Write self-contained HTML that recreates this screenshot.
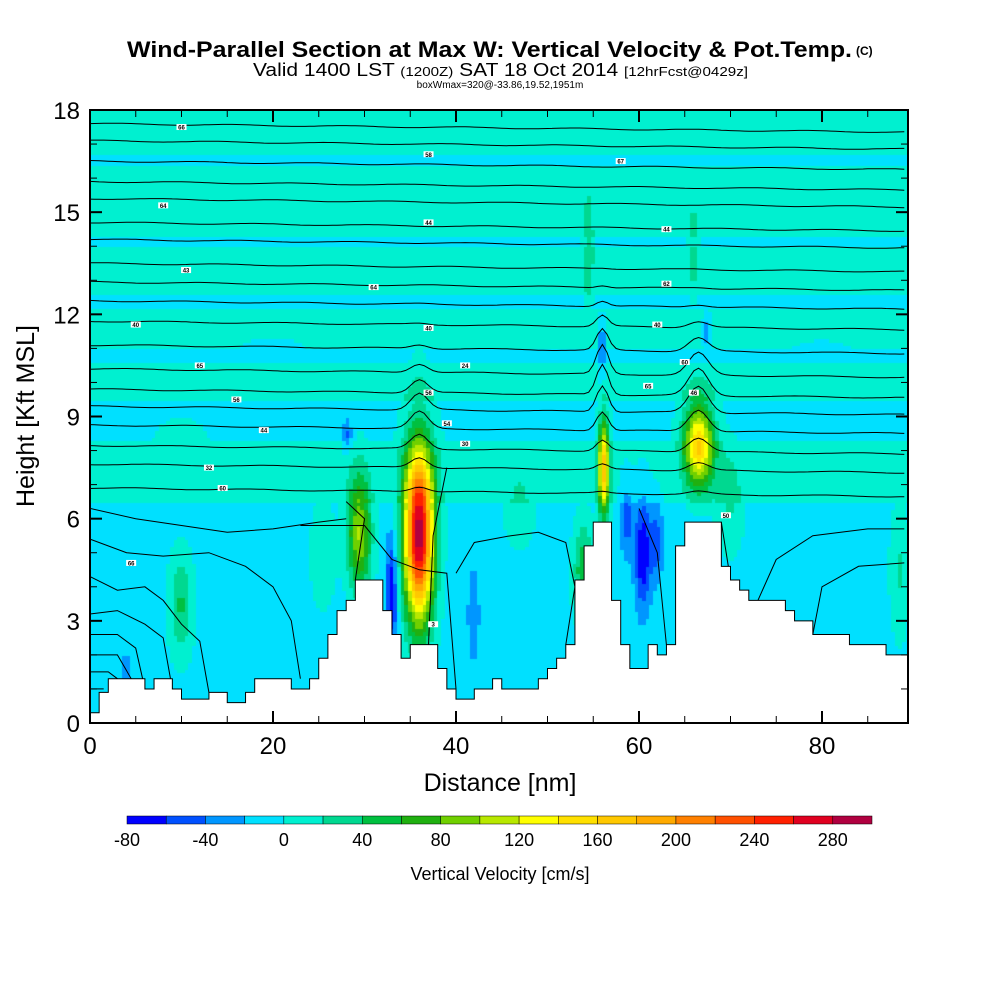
<!DOCTYPE html>
<html><head><meta charset="utf-8"><style>
body{margin:0;background:#fff;width:1000px;height:1000px;overflow:hidden;font-family:"Liberation Sans",sans-serif}
#wrap{position:relative;width:1000px;height:1000px}
canvas{position:absolute;left:90px;top:110px}
svg{position:absolute;left:0;top:0}
</style></head><body><div id="wrap">
<canvas id="field" width="818" height="613"></canvas>
<svg id="s" width="1000" height="1000">
<text x="127" y="57" textLength="725" lengthAdjust="spacingAndGlyphs" font-size="22" font-weight="bold">Wind-Parallel Section at Max W: Vertical Velocity &amp; Pot.Temp.</text>
<text x="856" y="55" font-size="12" font-weight="bold">(C)</text>
<text x="253" y="76" textLength="495" lengthAdjust="spacingAndGlyphs" font-size="18">Valid 1400 LST <tspan font-size="13">(1200Z)</tspan> SAT 18 Oct 2014 <tspan font-size="13">[12hrFcst@0429z]</tspan></text>
<text x="500" y="88" text-anchor="middle" font-size="10">boxWmax=320@-33.86,19.52,1951m</text>
<text x="500" y="791" text-anchor="middle" font-size="25">Distance [nm]</text>
<text transform="translate(34,416) rotate(-90)" text-anchor="middle" font-size="25">Height [Kft MSL]</text>
<text x="500" y="880" text-anchor="middle" font-size="18">Vertical Velocity [cm/s]</text>
</svg></div>
<script>
const xTicks=[0,20,40,60,80];
const yTicks=[0,3,6,9,12,15,18];
const cbLevels=[-80,-60,-40,-20,0,20,40,60,80,100,120,140,160,180,200,220,240,260,280,300];
const cbColors=["#0000ff","#0050ff","#0096ff","#00e0ff","#00f0d0","#00d890","#00c040","#20b010","#70d000","#b8e800","#ffff00","#ffe000","#ffc800","#ffaa00","#ff8000","#ff5000","#ff2000","#e00020","#b00040"];
const cbLabels=[-80,-40,0,40,80,120,160,200,240,280];
// terrain height (kft) per nm, x=0..89
const terrain=[0.3,0.9,1.3,1.3,1.3,1.3,1.0,1.3,1.3,1.0,0.7,0.7,0.7,0.9,0.9,0.6,0.6,0.9,1.3,1.3,1.3,1.3,1.0,1.0,1.3,1.9,2.6,3.3,3.6,4.2,4.2,4.2,3.3,2.6,1.9,2.3,2.3,2.3,1.6,1.0,0.7,0.7,1.0,1.0,1.3,1.0,1.0,1.0,1.0,1.3,1.6,1.9,2.3,4.2,5.2,5.9,5.9,3.6,2.3,1.6,1.6,2.3,2.0,2.3,5.2,5.9,5.9,5.9,5.9,4.6,4.2,3.9,3.6,3.6,3.6,3.6,3.3,3.0,3.0,2.6,2.6,2.6,2.6,2.3,2.3,2.3,2.3,2.0,2.0,2.0];
// w cells: centre x (nm), centre z (kft), width, depth, amplitude (cm/s)
const cellX=[36,29.5,33,56.2,54,66.6,60.5,58.7,62,56,67.5,28.2,10,42,4,25.5,47,70,88.5,54.5,66,20,80,10];
const cellZ=[5.6,5.6,3.8,7.5,4.5,8.2,5.0,6.0,5.3,11.0,11.5,8.5,3.5,3.2,1.5,5.0,6.5,6.5,4.5,14,14,11,11,8];
const cellSX=[1.6,1.3,0.6,0.6,1.1,1.6,0.9,0.7,0.7,0.45,0.5,0.5,1.3,0.6,0.4,1.4,2.0,1.5,1.0,0.5,0.5,6,5,4];
const cellSZ=[2.5,1.7,1.7,1.4,1.4,1.2,1.6,1.1,1.1,1.0,0.6,0.5,1.5,1.3,0.5,1.6,1.5,1.5,2,1.5,1.2,0.5,0.4,1.2];
const cellAmp=[300,110,-75,170,65,165,-70,-40,-40,-45,-40,-40,50,-35,-35,25,20,30,30,30,25,-15,-15,10];
// background band edges (kft) and value inside each interval
const bandZ=[0,6.5,8.3,9.5,10.6,11.0,12.2,12.6,14.0,14.3,16.4,16.7,18.5];
const bandW=[-8,3,-5,10,-3,10,-3,10,-3,10,-3,10];
// potential temperature contour base heights (kft) at left edge
const thetaBase=[17.6,17.1,16.5,15.9,15.4,14.7,14.2,13.5,12.95,12.4,11.8,11.1,10.4,9.8,9.3,8.75,8.15,7.6,6.9];
// low-level theta contours as polylines [x nm, z kft]
const lowLines=[
[[0,6.3],[5,6.0],[10,5.8],[15,5.6],[20,5.7],[25,5.9],[28,6.0]],
[[0,5.4],[4,5.0],[8,4.9],[13,5.0],[17,4.6],[20,4.0],[22,3.0],[23,1.3]],
[[0,4.3],[3,3.9],[6,4.0],[8,3.6],[10,2.9],[12,2.4],[13,0.9]],
[[0,3.2],[3,3.3],[6,2.9],[8,2.5],[9,1.0]],
[[0,2.6],[3,2.6],[5,2.2],[6,1.0]],
[[0,2.0],[3,2.0],[4.5,1.3]],
[[0,1.5],[2,1.5],[3,1.3]],
[[0,1.0],[1.5,1.0]],
[[23,5.8],[30,5.8],[33,4.8],[36,4.5],[39,4.4],[40,1.0]],
[[40,4.4],[42,5.3],[46,5.5],[49,5.6],[52,5.3],[53,4.0],[52,2.3]],
[[28,6.5],[30,6.0],[29,4.2]],
[[37,2.3],[37.5,5.5],[39,7.5]],
[[60,6.3],[62,5.0],[63,2.3]],
[[69,5.9],[70,4.2]],
[[73,3.6],[75,4.8],[79,5.5],[85,5.7],[89,5.7]],
[[79,2.6],[80,4.0],[84,4.6],[89,4.7]]];
const thetaLabels=[[10,17.5,"66"],[37,16.7,"58"],[58,16.5,"67"],[8,15.2,"64"],[37,14.7,"44"],[63,14.5,"44"],[10.5,13.3,"43"],[31,12.8,"64"],[63,12.9,"62"],[5,11.7,"40"],[37,11.6,"40"],[62,11.7,"40"],[12,10.5,"65"],[41,10.5,"24"],[65,10.6,"60"],[16,9.5,"56"],[37,9.7,"56"],[61,9.9,"65"],[19,8.6,"44"],[39,8.8,"54"],[41,8.2,"30"],[66,9.7,"46"],[13,7.5,"32"],[14.5,6.9,"60"],[4.5,4.7,"66"],[37.5,2.9,"3"],[69.5,6.1,"50"]];

const L=90,T=110,R=908,B=723,XMAX=89.4,ZMAX=18;
const sx=x=>L+(R-L)*x/XMAX, sz=z=>B-(B-T)*z/ZMAX;
const NS="http://www.w3.org/2000/svg", svg=document.getElementById('s');
function mk(t,a,p){const e=document.createElementNS(NS,t);for(const k in a)e.setAttribute(k,a[k]);(p||svg).appendChild(e);return e;}
function bg(z){for(let i=0;i<bandW.length;i++){if(z<bandZ[i+1])return bandW[i];}return bandW[bandW.length-1];}
function w(x,z){let v=bg(z);for(let i=0;i<cellX.length;i++){const dx=(x-cellX[i])/cellSX[i],dz=(z-cellZ[i])/cellSZ[i];v+=cellAmp[i]*Math.exp(-(dx*dx+dz*dz));}return v;}
function col(v){for(let i=0;i<cbColors.length;i++){if(v<cbLevels[i+1])return cbColors[i];}return cbColors[cbColors.length-1];}
const ctx=document.getElementById('field').getContext('2d');
const dx=0.4,dz=0.1;
for(let x=0;x<XMAX;x+=dx)for(let z=0;z<ZMAX;z+=dz){
 ctx.fillStyle=col(w(x+dx/2,z+dz/2));
 const px=sx(x)-L,py=sz(z+dz)-T;ctx.fillRect(Math.floor(px),Math.floor(py),Math.ceil(sx(x+dx)-sx(x))+1,Math.ceil(sz(z)-sz(z+dz))+1);
}
function bump(x,z){let d=0;const pk=[[36,0.5,1.3,8.9],[56,0.9,0.9,10],[66.5,0.8,1.5,9.6]];
 for(const p of pk){const g=Math.exp(-Math.pow((x-p[0])/p[2],2));const h=Math.exp(-Math.pow((z-p[3])/1.8,2));d+=p[1]*g*h;}return d;}
thetaBase.forEach((zb,i)=>{let pts=[];for(let x=0;x<=XMAX;x+=0.5){let z=zb-0.25*x/XMAX+bump(x,zb)+0.02*Math.sin(x*0.5+i);pts.push(sx(x).toFixed(1)+","+sz(z).toFixed(1));}
 const p=mk('polyline',{points:pts.join(' '),fill:'none',stroke:'#000','stroke-width':1});
 
 });
lowLines.forEach(l=>{const p=mk('polyline',{points:l.map(q=>sx(q[0]).toFixed(1)+","+sz(q[1]).toFixed(1)).join(' '),fill:'none',stroke:'#000','stroke-width':1});
 
 });
thetaLabels.forEach(t=>{const g=mk('g',{});
 
 
 mk('rect',{x:sx(t[0])-5,y:sz(t[1])-3,width:10,height:6,fill:'#fff'},g);
 mk('text',{x:sx(t[0]),y:sz(t[1])+2.5,'font-size':6,'text-anchor':'middle','font-weight':'bold'},g).textContent=t[2];});
let tp=[sx(0)+","+B];for(let i=0;i<terrain.length;i++){tp.push(sx(i)+","+sz(terrain[i]));tp.push(Math.min(R,sx(i+1))+","+sz(terrain[i]));}tp.push(R+","+B);
const tr=mk('polygon',{points:tp.join(' '),fill:'#fff',stroke:'#000','stroke-width':1});


const fr=mk('rect',{x:L,y:T,width:R-L,height:B-T,fill:'none',stroke:'#000','stroke-width':2});


for(let x=0;x<=XMAX;x+=5){const big=x%20==0;mk('line',{x1:sx(x),x2:sx(x),y1:B,y2:B-(big?12:7),stroke:'#000','stroke-width':big?2:1});mk('line',{x1:sx(x),x2:sx(x),y1:T,y2:T+(big?12:7),stroke:'#000','stroke-width':big?2:1});}
for(let z=0;z<=18;z++){const big=z%3==0;mk('line',{x1:L,x2:L+(big?12:7),y1:sz(z),y2:sz(z),stroke:'#000','stroke-width':big?2:1});mk('line',{x1:R,x2:R-(big?12:7),y1:sz(z),y2:sz(z),stroke:'#000','stroke-width':big?2:1});}
xTicks.forEach(x=>{const t=mk('text',{x:sx(x),y:B+31,'font-size':24,'text-anchor':'middle'});t.textContent=x;
 
 });
yTicks.forEach(z=>{const t=mk('text',{x:L-10,y:sz(z)+9,'font-size':24,'text-anchor':'end'});t.textContent=z;
 
 });
const cL=127,cR=872,cw=(cR-cL)/cbColors.length;
cbColors.forEach((c,i)=>{const r=mk('rect',{x:cL+i*cw,y:816,width:cw,height:8,fill:c,stroke:'#000','stroke-width':0.5});
 
 });
cbLabels.forEach(v=>{const i=cbLevels.indexOf(v);const t=mk('text',{x:cL+i*cw,y:846,'font-size':18,'text-anchor':'middle'});t.textContent=v;
 
 });
</script></body></html>
